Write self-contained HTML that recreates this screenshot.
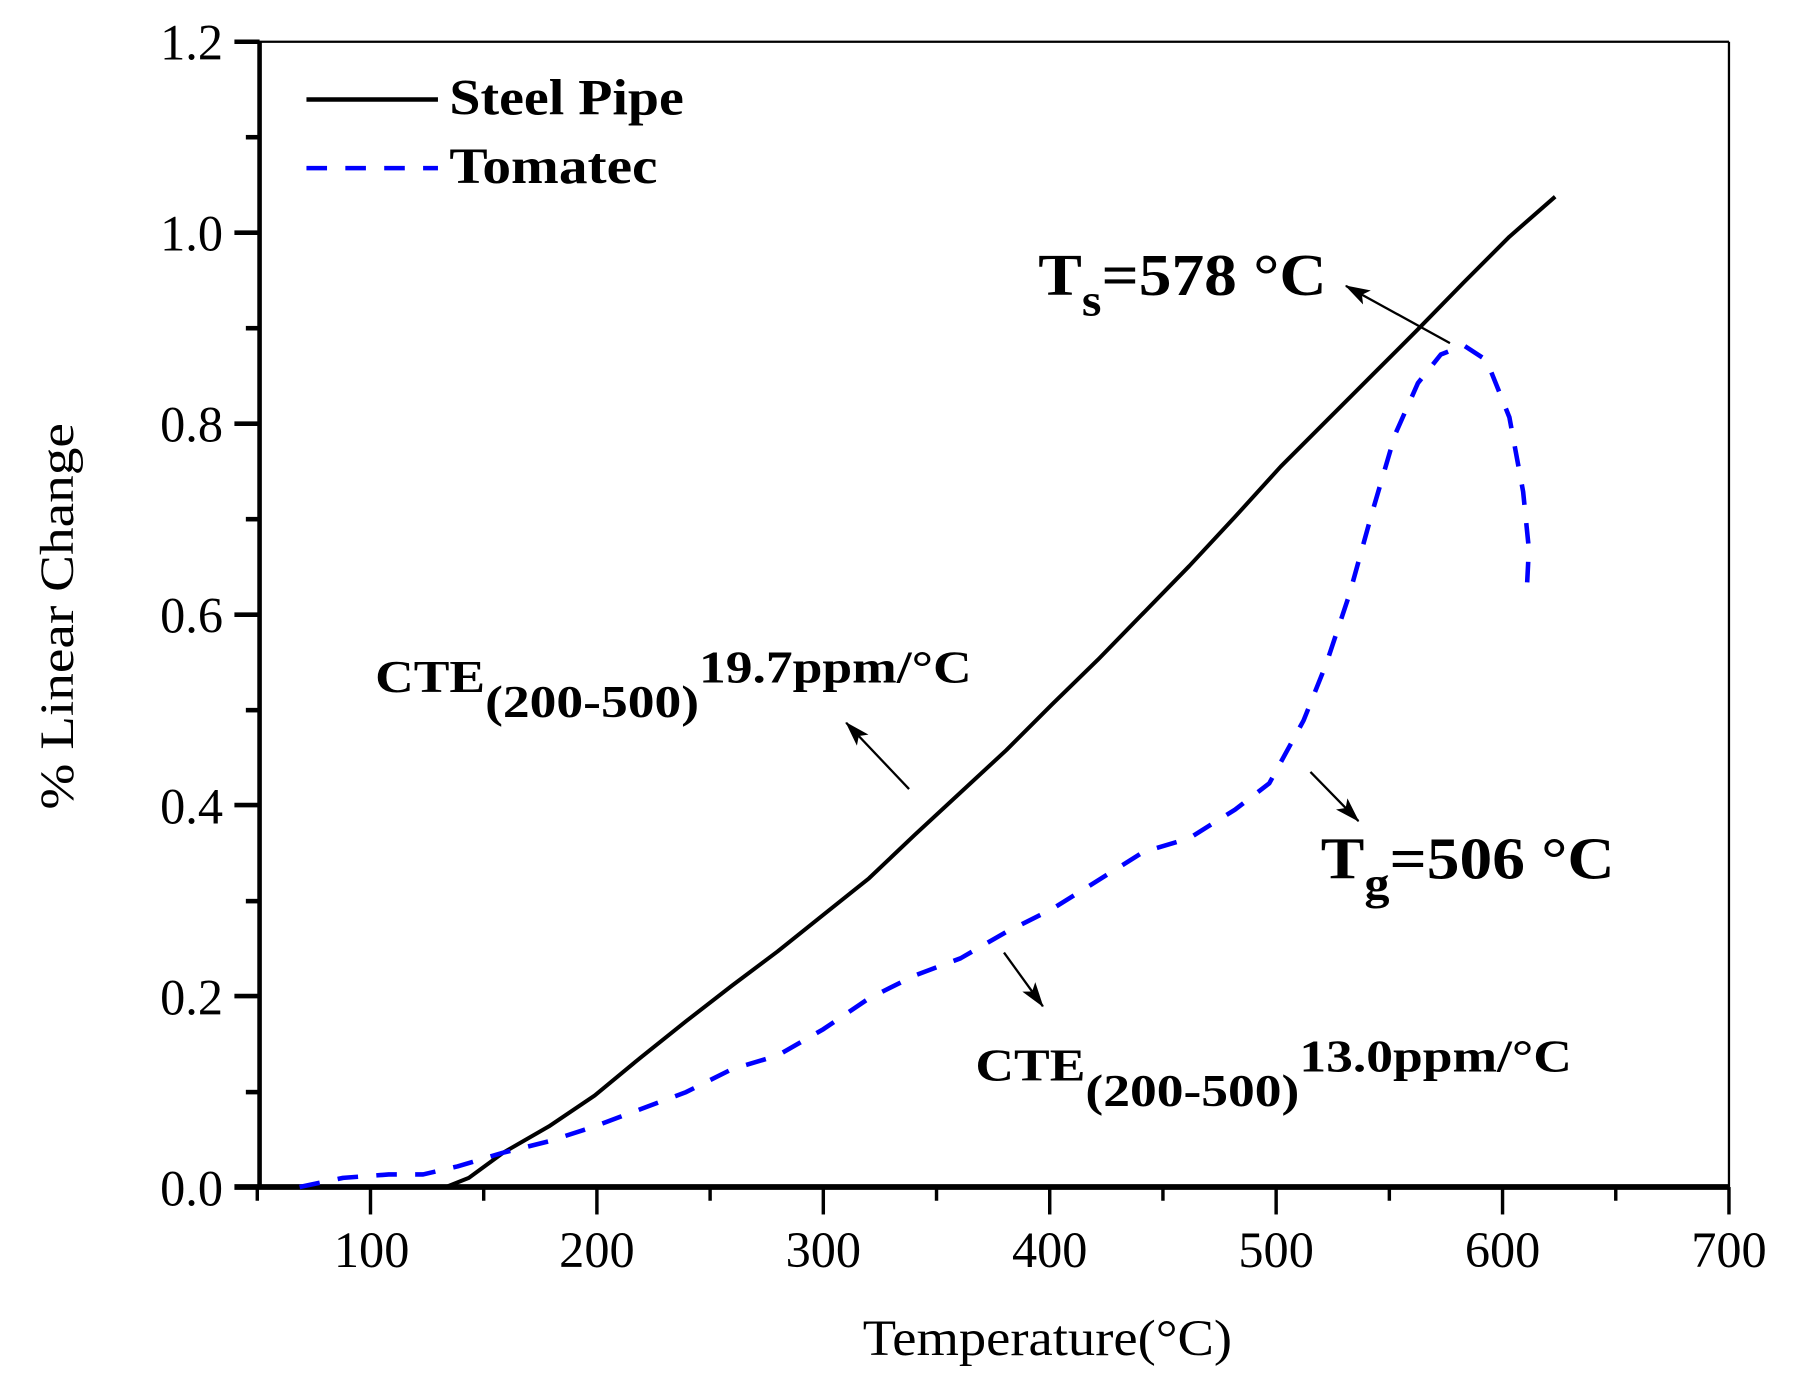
<!DOCTYPE html>
<html><head><meta charset="utf-8"><style>
html,body{margin:0;padding:0;background:#fff;}
svg{display:block;}
text{font-family:"Liberation Serif",serif;}
</style></head><body>
<svg width="1793" height="1386" viewBox="0 0 1568 1212" preserveAspectRatio="none" xmlns="http://www.w3.org/2000/svg">
<defs>
<marker id="ah" markerWidth="22" markerHeight="14" refX="21" refY="7" orient="auto" markerUnits="userSpaceOnUse" viewBox="0 0 22 14">
<path d="M0,0 L22,7 L0,14 L5,7 Z" fill="#000"/>
</marker>
</defs>
<rect width="1568" height="1212" fill="#fff"/>
<line x1="225" y1="36.5" x2="1512" y2="36.5" stroke="#000" stroke-width="2"/>
<line x1="1512" y1="36.5" x2="1512" y2="1038" stroke="#000" stroke-width="2"/>
<line x1="227" y1="36.5" x2="227" y2="1040" stroke="#000" stroke-width="4"/>
<line x1="205" y1="1038" x2="1512" y2="1038" stroke="#000" stroke-width="5"/>
<g stroke="#000" stroke-width="4">
<line x1="205" y1="36.5" x2="227" y2="36.5"/>
<line x1="205" y1="203.5" x2="227" y2="203.5"/>
<line x1="205" y1="370.5" x2="227" y2="370.5"/>
<line x1="205" y1="537.5" x2="227" y2="537.5"/>
<line x1="205" y1="704" x2="227" y2="704"/>
<line x1="205" y1="871" x2="227" y2="871"/>
<line x1="215" y1="120" x2="227" y2="120"/>
<line x1="215" y1="287" x2="227" y2="287"/>
<line x1="215" y1="454" x2="227" y2="454"/>
<line x1="215" y1="621" x2="227" y2="621"/>
<line x1="215" y1="788" x2="227" y2="788"/>
<line x1="215" y1="955" x2="227" y2="955"/>
</g>
<g stroke="#000" stroke-width="3">
<line x1="225" y1="1038" x2="225" y2="1050"/>
<line x1="324" y1="1038" x2="324" y2="1062"/>
<line x1="423" y1="1038" x2="423" y2="1050"/>
<line x1="522" y1="1038" x2="522" y2="1062"/>
<line x1="621" y1="1038" x2="621" y2="1050"/>
<line x1="720" y1="1038" x2="720" y2="1062"/>
<line x1="819" y1="1038" x2="819" y2="1050"/>
<line x1="918" y1="1038" x2="918" y2="1062"/>
<line x1="1017" y1="1038" x2="1017" y2="1050"/>
<line x1="1116" y1="1038" x2="1116" y2="1062"/>
<line x1="1215" y1="1038" x2="1215" y2="1050"/>
<line x1="1314" y1="1038" x2="1314" y2="1062"/>
<line x1="1413" y1="1038" x2="1413" y2="1050"/>
<line x1="1512" y1="1038" x2="1512" y2="1062"/>
</g>
<g font-size="44" text-anchor="end">
<text x="195" y="52">1.2</text>
<text x="195" y="219">1.0</text>
<text x="195" y="386">0.8</text>
<text x="195" y="553">0.6</text>
<text x="195" y="720">0.4</text>
<text x="195" y="887">0.2</text>
<text x="195" y="1054">0.0</text>
</g>
<g font-size="44" text-anchor="middle">
<text x="325" y="1108">100</text>
<text x="522" y="1108">200</text>
<text x="720" y="1108">300</text>
<text x="918" y="1108">400</text>
<text x="1116" y="1108">500</text>
<text x="1314" y="1108">600</text>
<text x="1512" y="1108">700</text>
<text x="916" y="1185" textLength="323" lengthAdjust="spacingAndGlyphs">Temperature(°C)</text>
</g>
<text font-size="42" text-anchor="middle" textLength="338" lengthAdjust="spacingAndGlyphs" transform="translate(64,539) rotate(-90)">% Linear Change</text>
<line x1="268" y1="87" x2="383" y2="87" stroke="#000" stroke-width="4"/>
<line x1="268" y1="147" x2="383" y2="147" stroke="#0000ff" stroke-width="4" stroke-dasharray="18,16"/>
<g font-size="44" font-weight="bold">
<text x="393" y="100" textLength="205" lengthAdjust="spacingAndGlyphs">Steel Pipe</text>
<text x="393" y="160" textLength="182" lengthAdjust="spacingAndGlyphs">Tomatec</text>
</g>
<polyline fill="none" stroke="#000" stroke-width="3.5" stroke-linejoin="round" points="390,1038 410,1030 440,1008 480,985 520,958 560,925 600,893 640,862 680,832 720,800 760,768 800,730 840,693 880,656 920,616 960,577 1000,536 1040,495 1080,452 1120,408 1160,368 1200,328 1240,288 1280,247 1320,207 1360,172"/>
<polyline fill="none" stroke="#0000ff" stroke-width="4" stroke-dasharray="18,16" stroke-linejoin="round" points="262,1038 300,1030 340,1027 370,1027 400,1020 440,1008 480,998 520,985 560,970 600,955 640,935 680,923 720,900 760,873 800,853 840,838 880,815 920,795 960,770 1000,745 1040,733 1080,708 1110,685 1140,630 1160,580 1180,520 1200,448 1220,380 1240,335 1260,310 1280,302 1300,315 1320,365 1332,430 1337,480 1335,520"/>
<g stroke="#000" stroke-width="2" marker-end="url(#ah)">
<line x1="795" y1="690" x2="740" y2="632"/>
<line x1="1268" y1="300" x2="1177" y2="250"/>
<line x1="1146" y1="675" x2="1188" y2="718"/>
<line x1="878" y1="833" x2="912" y2="880"/>
</g>
<g font-weight="bold" fill="#000">
<g transform="translate(328,605) scale(1.17,1)"><text x="0" y="0" font-size="40">CTE<tspan dy="22">(200-500)</tspan><tspan dy="-30">19.7ppm/°C</tspan></text></g>
<g transform="translate(853,945) scale(1.17,1)"><text x="0" y="0" font-size="40">CTE<tspan dy="22">(200-500)</tspan><tspan dy="-30">13.0ppm/°C</tspan></text></g>
<g transform="translate(908,258) scale(1.1,1)"><text x="0" y="0" font-size="52">T<tspan font-size="40" dy="18">s</tspan><tspan dy="-18" font-size="52">=578 °C</tspan></text></g>
<g transform="translate(1155,768) scale(1.1,1)"><text x="0" y="0" font-size="52">T<tspan font-size="40" dy="18">g</tspan><tspan dy="-18" font-size="52">=506 °C</tspan></text></g>
</g>
</svg>
</body></html>
